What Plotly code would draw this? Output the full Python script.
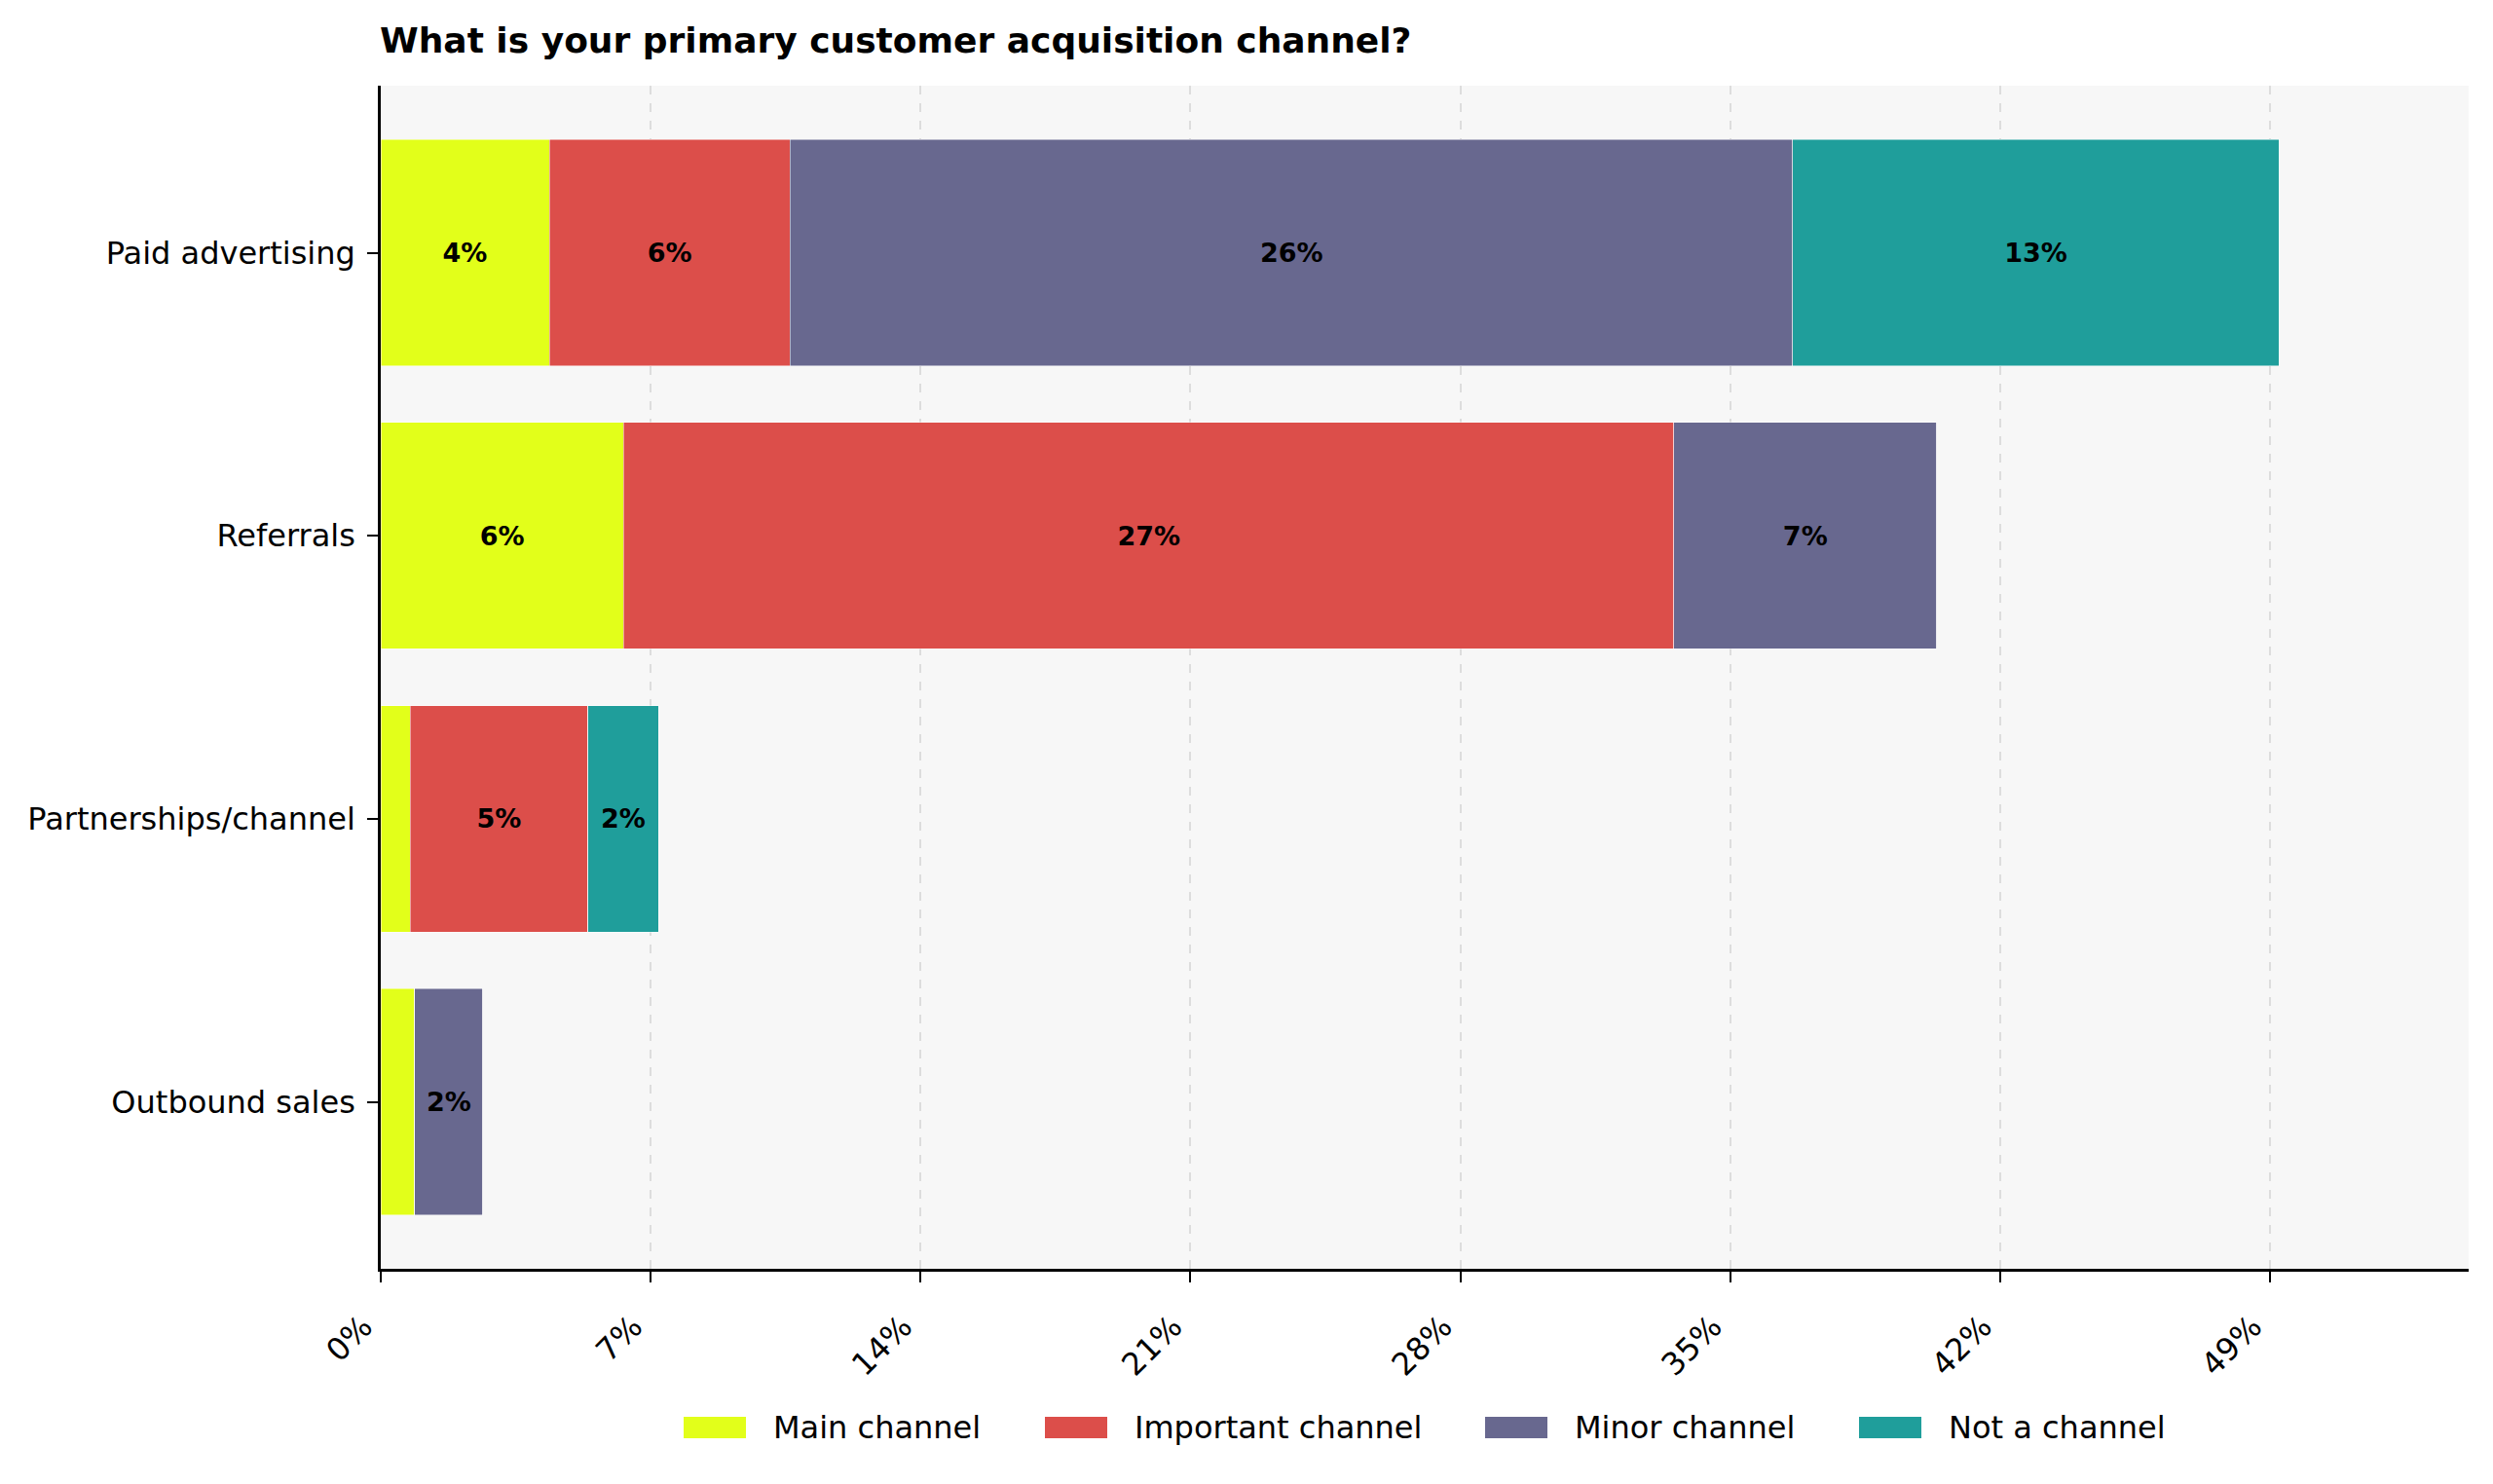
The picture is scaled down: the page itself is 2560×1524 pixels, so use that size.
import plotly.graph_objects as go

categories = ["Paid advertising", "Referrals", "Partnerships/channel", "Outbound sales"]
series_names = ["Main channel", "Important channel", "Minor channel", "Not a channel"]
main_channel = [4.37, 6.30, 0.76, 0.88]
important_channel = [6.25, 27.24, 4.61, 0.0]
minor_channel = [26.0, 6.81, 0.0, 1.77]
not_a_channel = [12.61, 0.0, 1.83, 0.0]
colors = ["#E2FF1A", "#DC4E4A", "#68688F", "#1F9E9B"]
x_ticks = [0, 7, 14, 21, 28, 35, 42, 49]
x_tick_labels = [f"{t}%" for t in x_ticks]

series = [main_channel, important_channel, minor_channel, not_a_channel]
FONT = "DejaVu Sans"

W, H = 2560, 1524
L, R, T, B = 391, 25, 88, 221
plot_w = W - L - R
plot_h = H - T - B

fig = go.Figure()
for name, vals, col in zip(series_names, series, colors):
    labels = [f"{round(v):.0f}%" if v >= 1.5 else "" for v in vals]
    fig.add_trace(go.Bar(
        y=categories, x=vals, name=name, orientation="h",
        marker=dict(color=col, line=dict(color="rgba(255,255,255,0.6)", width=0.8)),
        width=0.8,
        text=labels, textposition="inside", insidetextanchor="middle",
        constraintext="none",
        textfont=dict(family=FONT, size=27, color="black", weight="bold"),
        hoverinfo="x+y+name", showlegend=False,
    ))

# legend drawn below the plot (matplotlib-style wide swatches)
legend_starts_px = [702, 1073, 1525, 1909]
sw_w, sw_h, txt_gap = 64, 22, 26
legend_cy_px = 1466
px2x = lambda p: (p - L) / plot_w
py2y = lambda p: (H - B - p) / plot_h
shapes, annotations = [], []
for name, col, x0 in zip(series_names, colors, legend_starts_px):
    shapes.append(dict(type="rect", xref="paper", yref="paper",
                       x0=px2x(x0), x1=px2x(x0 + sw_w),
                       y0=py2y(legend_cy_px + sw_h / 2), y1=py2y(legend_cy_px - sw_h / 2),
                       fillcolor=col, line=dict(width=0)))
    annotations.append(dict(text=name, xref="paper", yref="paper",
                            x=px2x(x0 + sw_w + txt_gap), y=py2y(legend_cy_px),
                            xanchor="left", yanchor="middle", showarrow=False,
                            font=dict(family=FONT, size=32, color="black")))

fig.update_layout(
    barmode="stack",
    width=W, height=H,
    paper_bgcolor="white", plot_bgcolor="#F7F7F7",
    margin=dict(l=L, r=R, t=T, b=B, autoexpand=False),
    font=dict(family=FONT, size=32, color="black"),
    showlegend=False,
    title=dict(text="<b>What is your primary customer acquisition channel?</b>",
               x=390 / W, xanchor="left", xref="container",
               y=1 - 41 / H, yanchor="middle", yref="container",
               font=dict(family=FONT, size=36, color="black")),
    shapes=shapes,
    annotations=annotations,
    xaxis=dict(range=[0, 54.15], tickmode="array", tickvals=x_ticks, ticktext=x_tick_labels,
               tickangle=-45, tickfont=dict(family=FONT, size=32),
               ticklabelshift=-18, ticklabelstandoff=14,
               showgrid=True, gridcolor="#DDDDDD", griddash="dash", gridwidth=1.5,
               zeroline=False, showline=True, linecolor="black", linewidth=2.5,
               ticks="outside", ticklen=11, tickwidth=2, tickcolor="black"),
    yaxis=dict(type="category", categoryorder="array", categoryarray=categories,
               range=[3.59, -0.59], tickfont=dict(family=FONT, size=32),
               showgrid=False, zeroline=False, showline=True, linecolor="black",
               linewidth=2.5, ticks="outside", ticklen=11, tickwidth=2,
               tickcolor="black", ticklabelstandoff=6),
)

fig.write_html("out.html")
